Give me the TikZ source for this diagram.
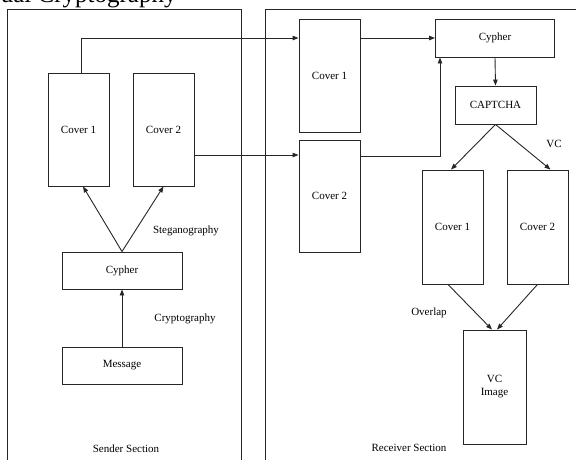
\documentclass[tikz,border=0pt]{standalone}
\usepackage{fontspec}
\setmainfont{Liberation Serif}
\usetikzlibrary{arrows.meta}
\begin{document}
\begin{tikzpicture}[x=1pt,y=-1pt,
  line width=0.9pt,
  box/.style={draw=black!85, rectangle, inner sep=0pt, font=\fontsize{11}{13}\selectfont, align=center},
  lbl/.style={font=\fontsize{11}{13}\selectfont, inner sep=0pt},
  arr/.style={draw=black!85, -{Triangle[length=6pt,width=4.5pt]}},
  ln/.style={draw=black!85}]
\useasboundingbox (0,0) rectangle (576,459);
\clip (0,0) rectangle (576,459);
% partially visible title
\node[anchor=base east, font=\fontsize{25}{29}\selectfont, inner sep=0pt] (title) at (177,2) {Visual Cryptography};
% sections
\draw[ln] (7,470) -- (7,9) -- (241,9) -- (241,470);
\draw[ln] (265,470) -- (265,9) -- (590,9);
% sender nodes
\node[box, minimum width=61pt, minimum height=113pt] (sc1) at (78.5,129.5) {Cover 1};
\node[box, minimum width=61pt, minimum height=113pt] (sc2) at (163.5,129.5) {Cover 2};
\node[box, minimum width=120pt, minimum height=37pt] (scy) at (122,270.5) {Cypher};
\node[box, minimum width=120pt, minimum height=37pt] (msg) at (122,365.5) {Message};
% receiver nodes
\node[box, minimum width=61pt, minimum height=113pt] (rc1) at (329.5,75.5) {Cover 1};
\node[box, minimum width=61pt, minimum height=112pt] (rc2) at (329.5,196) {Cover 2};
\node[box, minimum width=119pt, minimum height=38pt] (rcy) at (495,38) {Cypher};
\node[box, minimum width=81pt, minimum height=38pt] (cap) at (495.5,105) {CAPTCHA};
\node[box, minimum width=61pt, minimum height=114pt] (b1) at (452.5,227) {Cover 1};
\node[box, minimum width=61pt, minimum height=114pt] (b2) at (537.5,227) {Cover 2};
\node[box, minimum width=63pt, minimum height=114pt] (vc) at (494.5,387) {VC\\Image};
% labels
\node[lbl] (steg) at (186,231) {Steganography};
\node[lbl] (cryp) at (185,319) {Cryptography};
\node[lbl] (vcl) at (554,144) {VC};
\node[lbl] (ovl) at (429,313) {Overlap};
\node[lbl] (ssec) at (126,449) {Sender Section};
\node[lbl] (rsec) at (409,448) {Receiver Section};
% coordinates
\coordinate (sc1out) at ([xshift=2.5pt]sc1.north);
\coordinate (rc1in) at ([yshift=37.5pt]rc1.west);
\coordinate (sc2out) at ([yshift=-25.5pt]sc2.east);
\coordinate (rc2in) at ([yshift=40pt]rc2.west);
\coordinate (rc1out) at ([yshift=37.5pt]rc1.east);
\coordinate (rc2out) at ([yshift=40pt]rc2.east);
\coordinate (rcyin) at ([xshift=-55pt]rcy.south);
% connectors
\draw[arr] (msg.north) -- (scy.south);
\draw[arr] (scy.north) -- ([xshift=4.5pt]sc1.south);
\draw[arr] (scy.north) -- (sc2.south);
\draw[arr] (sc1out) -- (sc1out |- rc1in) -- (rc1in);
\draw[arr] (sc2out) -- (sc2out -| rc2in);
\draw[arr] (rc1out) -- (rc1out -| rcy.west);
\draw[arr] (rc2out) -| (rcyin);
\draw[arr] (rcy.south) -- (cap.north);
\draw[arr] (cap.south) -- ([xshift=-1.5pt]b1.north);
\draw[arr] (cap.south) -- ([xshift=13pt]b2.north);
\draw[arr] ([xshift=-4.5pt]b1.south) -- ([xshift=-2.5pt]vc.north);
\draw[arr] (b2.south) -- ([xshift=2.5pt]vc.north);
\end{tikzpicture}
\end{document}
